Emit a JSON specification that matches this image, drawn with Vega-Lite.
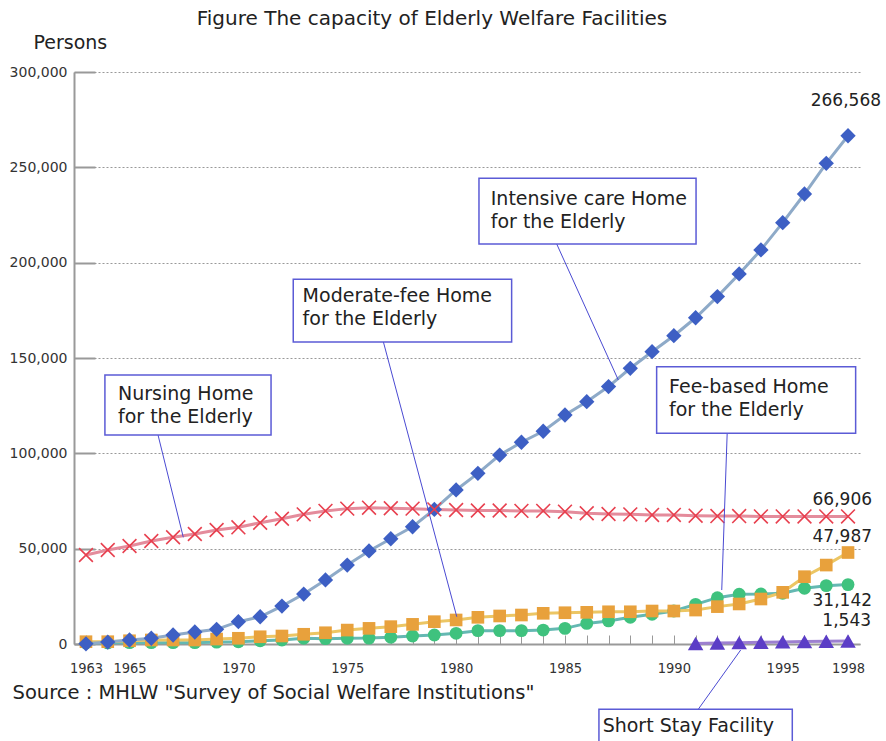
{
  "$schema": "https://vega.github.io/schema/vega-lite/v6.json",
  "width": 786,
  "height": 572,
  "autosize": {"type": "none"},
  "padding": {"left": 74, "top": 72, "right": 26, "bottom": 97},
  "background": "white",
  "title": {
    "text": "Figure The capacity of Elderly Welfare Facilities",
    "font": "DejaVu Sans",
    "fontSize": 20,
    "fontWeight": "normal",
    "color": "#222222",
    "anchor": "middle",
    "frame": "group",
    "dx": -35,
    "offset": 4
  },
  "resolve": {"axis": {"x": "independent"}},
  "config": {
    "view": {"stroke": null},
    "font": "DejaVu Sans",
    "axisX": {
      "titleFont": "DejaVu Sans", "titleFontSize": 19.5, "titleFontWeight": "normal",
      "titleColor": "#222222", "titleAlign": "left", "titleAnchor": "start",
      "titleX": -62, "titleY": 48, "titleBaseline": "middle",
      "labelFont": "Liberation Sans Narrow, DejaVu Sans Condensed, sans-serif",
      "labelFontSize": 14.5, "labelColor": "#333333",
      "labelOverlap": false, "labelFlush": false,
      "tickColor": "#999999", "tickWidth": 1,
      "domainColor": "#999999", "domainWidth": 2,
      "grid": false
    },
    "axisY": {
      "titleFont": "DejaVu Sans", "titleFontSize": 19, "titleFontWeight": "normal",
      "titleColor": "#222222", "titleAngle": 0, "titleAlign": "left",
      "titleX": -41, "titleY": -30, "titleBaseline": "middle",
      "labelFont": "DejaVu Sans", "labelFontSize": 14, "labelColor": "#333333",
      "labelOverlap": false,
      "tickSize": -21, "tickColor": "#999999", "tickWidth": 2,
      "labelPadding": 28,
      "domainColor": "#999999", "domainWidth": 2,
      "grid": true, "gridColor": "#999999", "gridDash": [2, 2], "gridWidth": 1
    }
  },
  "datasets": {
    "series": [
      {"series": "Short Stay Facility", "year": 1991, "value": 300},
      {"series": "Short Stay Facility", "year": 1992, "value": 500},
      {"series": "Short Stay Facility", "year": 1993, "value": 700},
      {"series": "Short Stay Facility", "year": 1994, "value": 900},
      {"series": "Short Stay Facility", "year": 1995, "value": 1100},
      {"series": "Short Stay Facility", "year": 1996, "value": 1250},
      {"series": "Short Stay Facility", "year": 1997, "value": 1400},
      {"series": "Short Stay Facility", "year": 1998, "value": 1543},

      {"series": "Fee-based Home", "year": 1963, "value": 600},
      {"series": "Fee-based Home", "year": 1964, "value": 600},
      {"series": "Fee-based Home", "year": 1965, "value": 700},
      {"series": "Fee-based Home", "year": 1966, "value": 700},
      {"series": "Fee-based Home", "year": 1967, "value": 700},
      {"series": "Fee-based Home", "year": 1968, "value": 700},
      {"series": "Fee-based Home", "year": 1969, "value": 1000},
      {"series": "Fee-based Home", "year": 1970, "value": 1200},
      {"series": "Fee-based Home", "year": 1971, "value": 1700},
      {"series": "Fee-based Home", "year": 1972, "value": 2100},
      {"series": "Fee-based Home", "year": 1973, "value": 3000},
      {"series": "Fee-based Home", "year": 1974, "value": 2800},
      {"series": "Fee-based Home", "year": 1975, "value": 3000},
      {"series": "Fee-based Home", "year": 1976, "value": 3100},
      {"series": "Fee-based Home", "year": 1977, "value": 3500},
      {"series": "Fee-based Home", "year": 1978, "value": 4200},
      {"series": "Fee-based Home", "year": 1979, "value": 4700},
      {"series": "Fee-based Home", "year": 1980, "value": 5600},
      {"series": "Fee-based Home", "year": 1981, "value": 7000},
      {"series": "Fee-based Home", "year": 1982, "value": 7000},
      {"series": "Fee-based Home", "year": 1983, "value": 7000},
      {"series": "Fee-based Home", "year": 1984, "value": 7300},
      {"series": "Fee-based Home", "year": 1985, "value": 8200},
      {"series": "Fee-based Home", "year": 1986, "value": 10800},
      {"series": "Fee-based Home", "year": 1987, "value": 12100},
      {"series": "Fee-based Home", "year": 1988, "value": 14000},
      {"series": "Fee-based Home", "year": 1989, "value": 15600},
      {"series": "Fee-based Home", "year": 1990, "value": 17300},
      {"series": "Fee-based Home", "year": 1991, "value": 20800},
      {"series": "Fee-based Home", "year": 1992, "value": 24300},
      {"series": "Fee-based Home", "year": 1993, "value": 26100},
      {"series": "Fee-based Home", "year": 1994, "value": 26200},
      {"series": "Fee-based Home", "year": 1995, "value": 26600},
      {"series": "Fee-based Home", "year": 1996, "value": 29200},
      {"series": "Fee-based Home", "year": 1997, "value": 30600},
      {"series": "Fee-based Home", "year": 1998, "value": 31142},

      {"series": "Moderate-fee Home", "year": 1963, "value": 1200},
      {"series": "Moderate-fee Home", "year": 1964, "value": 1200},
      {"series": "Moderate-fee Home", "year": 1965, "value": 1700},
      {"series": "Moderate-fee Home", "year": 1966, "value": 2100},
      {"series": "Moderate-fee Home", "year": 1967, "value": 2100},
      {"series": "Moderate-fee Home", "year": 1968, "value": 2100},
      {"series": "Moderate-fee Home", "year": 1969, "value": 2600},
      {"series": "Moderate-fee Home", "year": 1970, "value": 3000},
      {"series": "Moderate-fee Home", "year": 1971, "value": 3800},
      {"series": "Moderate-fee Home", "year": 1972, "value": 4200},
      {"series": "Moderate-fee Home", "year": 1973, "value": 5100},
      {"series": "Moderate-fee Home", "year": 1974, "value": 5900},
      {"series": "Moderate-fee Home", "year": 1975, "value": 7300},
      {"series": "Moderate-fee Home", "year": 1976, "value": 8200},
      {"series": "Moderate-fee Home", "year": 1977, "value": 9100},
      {"series": "Moderate-fee Home", "year": 1978, "value": 10300},
      {"series": "Moderate-fee Home", "year": 1979, "value": 11700},
      {"series": "Moderate-fee Home", "year": 1980, "value": 12600},
      {"series": "Moderate-fee Home", "year": 1981, "value": 14000},
      {"series": "Moderate-fee Home", "year": 1982, "value": 14700},
      {"series": "Moderate-fee Home", "year": 1983, "value": 15200},
      {"series": "Moderate-fee Home", "year": 1984, "value": 16100},
      {"series": "Moderate-fee Home", "year": 1985, "value": 16400},
      {"series": "Moderate-fee Home", "year": 1986, "value": 16600},
      {"series": "Moderate-fee Home", "year": 1987, "value": 16900},
      {"series": "Moderate-fee Home", "year": 1988, "value": 16900},
      {"series": "Moderate-fee Home", "year": 1989, "value": 17300},
      {"series": "Moderate-fee Home", "year": 1990, "value": 17300},
      {"series": "Moderate-fee Home", "year": 1991, "value": 17800},
      {"series": "Moderate-fee Home", "year": 1992, "value": 19600},
      {"series": "Moderate-fee Home", "year": 1993, "value": 21000},
      {"series": "Moderate-fee Home", "year": 1994, "value": 23600},
      {"series": "Moderate-fee Home", "year": 1995, "value": 27100},
      {"series": "Moderate-fee Home", "year": 1996, "value": 35300},
      {"series": "Moderate-fee Home", "year": 1997, "value": 41400},
      {"series": "Moderate-fee Home", "year": 1998, "value": 47987},

      {"series": "Nursing Home", "year": 1963, "value": 46700},
      {"series": "Nursing Home", "year": 1964, "value": 49300},
      {"series": "Nursing Home", "year": 1965, "value": 51400},
      {"series": "Nursing Home", "year": 1966, "value": 54000},
      {"series": "Nursing Home", "year": 1967, "value": 56000},
      {"series": "Nursing Home", "year": 1968, "value": 57700},
      {"series": "Nursing Home", "year": 1969, "value": 59800},
      {"series": "Nursing Home", "year": 1970, "value": 61200},
      {"series": "Nursing Home", "year": 1971, "value": 63600},
      {"series": "Nursing Home", "year": 1972, "value": 65700},
      {"series": "Nursing Home", "year": 1973, "value": 68000},
      {"series": "Nursing Home", "year": 1974, "value": 69800},
      {"series": "Nursing Home", "year": 1975, "value": 71000},
      {"series": "Nursing Home", "year": 1976, "value": 71500},
      {"series": "Nursing Home", "year": 1977, "value": 71200},
      {"series": "Nursing Home", "year": 1978, "value": 71000},
      {"series": "Nursing Home", "year": 1979, "value": 70600},
      {"series": "Nursing Home", "year": 1980, "value": 70300},
      {"series": "Nursing Home", "year": 1981, "value": 70000},
      {"series": "Nursing Home", "year": 1982, "value": 70000},
      {"series": "Nursing Home", "year": 1983, "value": 69800},
      {"series": "Nursing Home", "year": 1984, "value": 69800},
      {"series": "Nursing Home", "year": 1985, "value": 69400},
      {"series": "Nursing Home", "year": 1986, "value": 68600},
      {"series": "Nursing Home", "year": 1987, "value": 68200},
      {"series": "Nursing Home", "year": 1988, "value": 68000},
      {"series": "Nursing Home", "year": 1989, "value": 67700},
      {"series": "Nursing Home", "year": 1990, "value": 67700},
      {"series": "Nursing Home", "year": 1991, "value": 67300},
      {"series": "Nursing Home", "year": 1992, "value": 67100},
      {"series": "Nursing Home", "year": 1993, "value": 67100},
      {"series": "Nursing Home", "year": 1994, "value": 66900},
      {"series": "Nursing Home", "year": 1995, "value": 66900},
      {"series": "Nursing Home", "year": 1996, "value": 66900},
      {"series": "Nursing Home", "year": 1997, "value": 66900},
      {"series": "Nursing Home", "year": 1998, "value": 66906},

      {"series": "Intensive care Home", "year": 1963, "value": 100},
      {"series": "Intensive care Home", "year": 1964, "value": 1000},
      {"series": "Intensive care Home", "year": 1965, "value": 2100},
      {"series": "Intensive care Home", "year": 1966, "value": 3000},
      {"series": "Intensive care Home", "year": 1967, "value": 4700},
      {"series": "Intensive care Home", "year": 1968, "value": 6300},
      {"series": "Intensive care Home", "year": 1969, "value": 7700},
      {"series": "Intensive care Home", "year": 1970, "value": 11700},
      {"series": "Intensive care Home", "year": 1971, "value": 14300},
      {"series": "Intensive care Home", "year": 1972, "value": 19900},
      {"series": "Intensive care Home", "year": 1973, "value": 26200},
      {"series": "Intensive care Home", "year": 1974, "value": 33600},
      {"series": "Intensive care Home", "year": 1975, "value": 41400},
      {"series": "Intensive care Home", "year": 1976, "value": 48800},
      {"series": "Intensive care Home", "year": 1977, "value": 55200},
      {"series": "Intensive care Home", "year": 1978, "value": 61500},
      {"series": "Intensive care Home", "year": 1979, "value": 70600},
      {"series": "Intensive care Home", "year": 1980, "value": 80800},
      {"series": "Intensive care Home", "year": 1981, "value": 89500},
      {"series": "Intensive care Home", "year": 1982, "value": 99100},
      {"series": "Intensive care Home", "year": 1983, "value": 105800},
      {"series": "Intensive care Home", "year": 1984, "value": 111600},
      {"series": "Intensive care Home", "year": 1985, "value": 120100},
      {"series": "Intensive care Home", "year": 1986, "value": 127100},
      {"series": "Intensive care Home", "year": 1987, "value": 135000},
      {"series": "Intensive care Home", "year": 1988, "value": 144600},
      {"series": "Intensive care Home", "year": 1989, "value": 153300},
      {"series": "Intensive care Home", "year": 1990, "value": 161700},
      {"series": "Intensive care Home", "year": 1991, "value": 171100},
      {"series": "Intensive care Home", "year": 1992, "value": 182200},
      {"series": "Intensive care Home", "year": 1993, "value": 194100},
      {"series": "Intensive care Home", "year": 1994, "value": 206700},
      {"series": "Intensive care Home", "year": 1995, "value": 221000},
      {"series": "Intensive care Home", "year": 1996, "value": 236000},
      {"series": "Intensive care Home", "year": 1997, "value": 252100},
      {"series": "Intensive care Home", "year": 1998, "value": 266568}
    ],
    "boxes": [
      {"note": "Nursing Home", "bx1": 1963.87, "bx2": 1971.5, "by1": 141100, "by2": 109600},
      {"note": "Moderate-fee Home", "bx1": 1972.52, "bx2": 1982.55, "by1": 191300, "by2": 158400},
      {"note": "Intensive care Home", "bx1": 1981.05, "bx2": 1991.02, "by1": 244250, "by2": 209800},
      {"note": "Fee-based Home", "bx1": 1989.21, "bx2": 1998.35, "by1": 145400, "by2": 110500},
      {"note": "Short Stay Facility", "bx1": 1986.56, "bx2": 1995.44, "by1": -34250, "by2": -53000}
    ],
    "leaders": [
      {"note": "Nursing Home", "lx1": 1966.31, "ly1": 109600, "lx2": 1967.47, "ly2": 55960},
      {"note": "Moderate-fee Home", "lx1": 1976.66, "ly1": 158400, "lx2": 1980.03, "ly2": 14300},
      {"note": "Intensive care Home", "lx1": 1984.62, "ly1": 209800, "lx2": 1987.45, "ly2": 138460},
      {"note": "Fee-based Home", "lx1": 1992.45, "ly1": 110500, "lx2": 1992.2, "ly2": 28300},
      {"note": "Short Stay Facility", "lx1": 1991.12, "ly1": -34250, "lx2": 1993.07, "ly2": -3150}
    ],
    "notes": [
      {"label": "Nursing Home\nfor the Elderly", "tx": 1964.47, "ty": 131300},
      {"label": "Moderate-fee Home\nfor the Elderly", "tx": 1972.95, "ty": 182400},
      {"label": "Intensive care Home\nfor the Elderly", "tx": 1981.59, "ty": 233500},
      {"label": "Fee-based Home\nfor the Elderly", "tx": 1989.78, "ty": 134800},
      {"label": "Short Stay Facility", "tx": 1986.73, "ty": -43000}
    ]
  },
  "layer": [
    {
      "data": {"name": "series"},
      "mark": {"type": "line", "strokeWidth": 3},
      "encoding": {
        "x": {
          "field": "year", "type": "quantitative",
          "scale": {"domain": [1962.45, 1998.55], "nice": false, "zero": false},
          "axis": {
            "orient": "bottom",
            "title": "Source : MHLW \"Survey of Social Welfare Institutions\"",
            "values": [1963,1964,1965,1966,1967,1968,1969,1970,1971,1972,1973,1974,1975,1976,1977,1978,1979,1980,1981,1982,1983,1984,1985,1986,1987,1988,1989,1990,1991,1992,1993,1994,1995,1996,1997,1998],
            "labels": false,
            "ticks": true,
            "tickSize": -9
          }
        },
        "y": {
          "field": "value", "type": "quantitative",
          "scale": {"domain": [0, 300000], "nice": false, "zero": false},
          "axis": {
            "title": "Persons",
            "values": [0, 50000, 100000, 150000, 200000, 250000, 300000],
            "labelExpr": "format(datum.value, ',')"
          }
        },
        "stroke": {
          "field": "series", "type": "nominal",
          "scale": {
            "domain": ["Intensive care Home", "Nursing Home", "Moderate-fee Home", "Fee-based Home", "Short Stay Facility"],
            "range": ["#8eaac8", "#e48c9c", "#ecc664", "#64b8b2", "#9d80d0"]
          },
          "legend": null
        }
      }
    },
    {
      "data": {"name": "series"},
      "transform": [{"filter": "datum.series === 'Short Stay Facility'"}],
      "mark": {"type": "point", "shape": "triangle-up", "filled": true, "opacity": 1, "color": "#5b3dc6", "size": 240},
      "encoding": {
        "x": {
          "field": "year", "type": "quantitative",
          "axis": {
            "orient": "bottom",
            "title": null,
            "values": [1963, 1965, 1970, 1975, 1980, 1985, 1990, 1995, 1998],
            "format": "d",
            "ticks": false,
            "domain": false,
            "labelPadding": 17
          }
        },
        "y": {"field": "value", "type": "quantitative"}
      }
    },
    {
      "data": {"name": "series"},
      "transform": [{"filter": "datum.series === 'Fee-based Home'"}],
      "mark": {"type": "point", "shape": "circle", "filled": true, "opacity": 1, "color": "#3fc27e", "size": 165},
      "encoding": {
        "x": {"field": "year", "type": "quantitative", "axis": null},
        "y": {"field": "value", "type": "quantitative"}
      }
    },
    {
      "data": {"name": "series"},
      "transform": [{"filter": "datum.series === 'Moderate-fee Home'"}],
      "mark": {"type": "point", "shape": "square", "filled": true, "opacity": 1, "color": "#e8a13c", "size": 160},
      "encoding": {
        "x": {"field": "year", "type": "quantitative", "axis": null},
        "y": {"field": "value", "type": "quantitative"}
      }
    },
    {
      "data": {"name": "series"},
      "transform": [{"filter": "datum.series === 'Intensive care Home'"}],
      "mark": {"type": "point", "shape": "diamond", "filled": true, "opacity": 1, "color": "#3d5fc4", "size": 235},
      "encoding": {
        "x": {"field": "year", "type": "quantitative", "axis": null},
        "y": {"field": "value", "type": "quantitative"}
      }
    },
    {
      "data": {"name": "series"},
      "transform": [{"filter": "datum.series === 'Nursing Home'"}],
      "mark": {"type": "point", "shape": "M-1,-1L1,1M-1,1L1,-1", "filled": false, "stroke": "#e8404f", "strokeWidth": 1.6, "size": 190, "opacity": 1},
      "encoding": {
        "x": {"field": "year", "type": "quantitative", "axis": null},
        "y": {"field": "value", "type": "quantitative"}
      }
    },
    {
      "data": {"name": "leaders"},
      "mark": {"type": "rule", "color": "#4a4ad2", "strokeWidth": 1},
      "encoding": {
        "x": {"field": "lx1", "type": "quantitative", "axis": null},
        "y": {"field": "ly1", "type": "quantitative"},
        "x2": {"field": "lx2"},
        "y2": {"field": "ly2"}
      }
    },
    {
      "data": {"name": "boxes"},
      "mark": {"type": "rect", "fill": "white", "stroke": "#5b5bd6", "strokeWidth": 1.5},
      "encoding": {
        "x": {"field": "bx1", "type": "quantitative", "axis": null},
        "x2": {"field": "bx2"},
        "y": {"field": "by1", "type": "quantitative"},
        "y2": {"field": "by2"}
      }
    },
    {
      "data": {"name": "notes"},
      "mark": {"type": "text", "align": "left", "baseline": "middle", "fontSize": 19, "lineHeight": 23, "lineBreak": "\n", "color": "#222222", "font": "DejaVu Sans"},
      "encoding": {
        "x": {"field": "tx", "type": "quantitative", "axis": null},
        "y": {"field": "ty", "type": "quantitative"},
        "text": {"field": "label"}
      }
    },
    {
      "data": {"name": "series"},
      "transform": [{"filter": "datum.year === 1998 && datum.series === 'Intensive care Home'"}],
      "mark": {"type": "text", "align": "right", "baseline": "middle", "dx": 33, "dy": -35, "fontSize": 17, "color": "#222222", "font": "DejaVu Sans"},
      "encoding": {
        "x": {"field": "year", "type": "quantitative", "axis": null},
        "y": {"field": "value", "type": "quantitative"},
        "text": {"field": "value", "type": "quantitative", "format": ","}
      }
    },
    {
      "data": {"name": "series"},
      "transform": [{"filter": "datum.year === 1998 && datum.series === 'Nursing Home'"}],
      "mark": {"type": "text", "align": "right", "baseline": "middle", "dx": 24, "dy": -16, "fontSize": 17, "color": "#222222", "font": "DejaVu Sans"},
      "encoding": {
        "x": {"field": "year", "type": "quantitative", "axis": null},
        "y": {"field": "value", "type": "quantitative"},
        "text": {"field": "value", "type": "quantitative", "format": ","}
      }
    },
    {
      "data": {"name": "series"},
      "transform": [{"filter": "datum.year === 1998 && datum.series === 'Moderate-fee Home'"}],
      "mark": {"type": "text", "align": "right", "baseline": "middle", "dx": 24, "dy": -16, "fontSize": 17, "color": "#222222", "font": "DejaVu Sans"},
      "encoding": {
        "x": {"field": "year", "type": "quantitative", "axis": null},
        "y": {"field": "value", "type": "quantitative"},
        "text": {"field": "value", "type": "quantitative", "format": ","}
      }
    },
    {
      "data": {"name": "series"},
      "transform": [{"filter": "datum.year === 1998 && datum.series === 'Fee-based Home'"}],
      "mark": {"type": "text", "align": "right", "baseline": "middle", "dx": 24, "dy": 16, "fontSize": 17, "color": "#222222", "font": "DejaVu Sans"},
      "encoding": {
        "x": {"field": "year", "type": "quantitative", "axis": null},
        "y": {"field": "value", "type": "quantitative"},
        "text": {"field": "value", "type": "quantitative", "format": ","}
      }
    },
    {
      "data": {"name": "series"},
      "transform": [{"filter": "datum.year === 1998 && datum.series === 'Short Stay Facility'"}],
      "mark": {"type": "text", "align": "right", "baseline": "middle", "dx": 23, "dy": -20, "fontSize": 17, "color": "#222222", "font": "DejaVu Sans"},
      "encoding": {
        "x": {"field": "year", "type": "quantitative", "axis": null},
        "y": {"field": "value", "type": "quantitative"},
        "text": {"field": "value", "type": "quantitative", "format": ","}
      }
    }
  ]
}
